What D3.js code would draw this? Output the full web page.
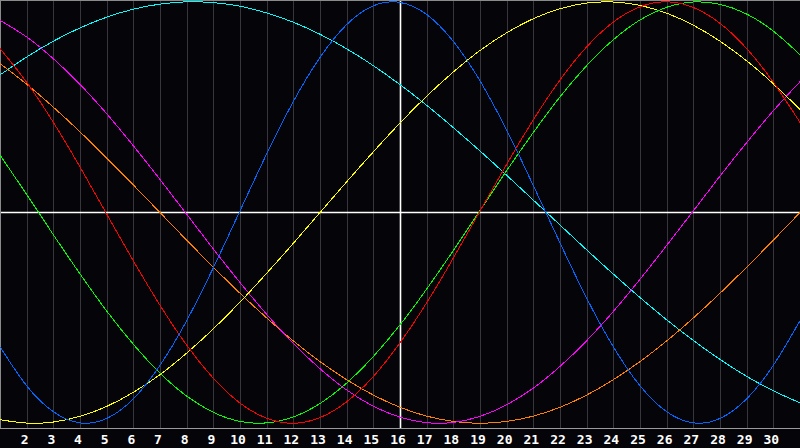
<!DOCTYPE html>
<html>
<head>
<meta charset="utf-8">
<script src="https://cdn.jsdelivr.net/npm/d3@7"></script>
<style>
  html, body { margin: 0; padding: 0; background: #050408; }
  svg { display: block; }
</style>
</head>
<body>
<div id="chart"></div>
<script>
// Days of the month shown (1 .. 31), labels 2 .. 30
const days = d3.range(1, 32);
const tickDays = d3.range(2, 31);
const today = 16;

// Cycle values in percent, one per day
const blue    = [-63.7,-82.2,-94.5,-99.8,-97.7,-88.4,-72.5,-51.3,-26.2,0.8,27.8,52.7,73.6,89.2,98.1,99.7,94.0,81.2,62.5,39.1,12.8,-14.4,-40.6,-63.7,-82.2,-94.5,-99.8,-97.7,-88.4,-72.5,-51.3];
const red     = [77.8,61.8,42.8,21.6,-0.7,-22.9,-44.0,-62.9,-78.6,-90.4,-97.6,-100.0,-97.3,-89.8,-77.8,-61.8,-42.8,-21.6,0.7,22.9,44.0,62.9,78.6,90.4,97.6,100.0,97.3,89.8,77.8,61.8,42.8];
const green   = [27.3,8.6,-10.5,-29.1,-46.7,-62.5,-76.2,-87.1,-94.8,-99.1,-99.8,-97.0,-90.6,-80.9,-68.3,-53.3,-36.3,-18.0,0.9,19.9,38.0,54.9,69.7,82.0,91.4,97.4,99.9,98.8,94.2,86.1,74.9];
const magenta = [91.2,83.3,73.0,60.8,46.9,31.7,15.7,-0.8,-17.3,-33.2,-48.3,-62.1,-74.1,-84.2,-91.9,-97.1,-99.7,-99.6,-96.7,-91.2,-83.3,-73.0,-60.8,-46.9,-31.7,-15.6,0.8,17.3,33.2,48.3,62.1];
const yellow  = [-98.3,-99.9,-99.4,-96.7,-92.0,-85.3,-76.9,-66.7,-55.2,-42.5,-28.8,-14.6,0,14.6,28.8,42.5,55.2,66.7,76.9,85.3,92.0,96.7,99.4,99.9,98.3,94.6,88.9,81.3,72.0,61.1,48.9];
const orange  = [70.7,60.9,50.0,38.3,25.9,13.1,0,-13.1,-25.9,-38.3,-50.0,-60.9,-70.7,-79.3,-86.6,-92.4,-96.6,-99.1,-100,-99.1,-96.6,-92.4,-86.6,-79.3,-70.7,-60.9,-50.0,-38.3,-25.9,-13.1,0];
const cyan    = [65.3,73.8,81.3,87.6,92.7,96.5,98.9,100.0,99.6,97.9,94.7,90.3,84.6,77.7,69.7,60.7,50.9,40.3,29.2,17.7,5.9,-5.9,-17.7,-29.2,-40.3,-50.9,-60.7,-69.7,-77.7,-84.6,-90.3];

const series = [
  { values: cyan,    color: '#00ffff' },
  { values: orange,  color: '#ff8000' },
  { values: magenta, color: '#ff00ff' },
  { values: yellow,  color: '#ffff00' },
  { values: green,   color: '#00ff00' },
  { values: red,     color: '#ff0000' },
  { values: blue,    color: '#0066ff' }
];

const W = 800, H = 448;
const plotBottom = 428;

const svg = d3.select('#chart')
  .append('svg')
  .attr('width', W)
  .attr('height', H);

svg.append('rect')
  .attr('width', W)
  .attr('height', H)
  .attr('fill', '#050408');

const x = d3.scaleLinear().domain([1, 31]).range([0, W]);
const y = d3.scaleLinear().domain([-100, 100]).range([423.3, 1.8]);

// Day grid lines
svg.append('g')
  .selectAll('line')
  .data(tickDays)
  .enter()
  .append('line')
  .attr('x1', d => Math.round(x(d)) + 0.5)
  .attr('x2', d => Math.round(x(d)) + 0.5)
  .attr('y1', 0)
  .attr('y2', plotBottom)
  .attr('stroke', d => d === today ? '#ffffff' : '#38363c')
  .attr('stroke-width', d => d === today ? 1.6 : 1);

// Zero line
svg.append('line')
  .attr('x1', 0).attr('x2', W)
  .attr('y1', y(0)).attr('y2', y(0))
  .attr('stroke', '#ffffff')
  .attr('stroke-width', 1.6);

// Frame: left, top and bottom
svg.append('line').attr('x1', 0.5).attr('x2', 0.5).attr('y1', 0).attr('y2', plotBottom)
  .attr('stroke', '#8a8a8a');
svg.append('line').attr('x1', 0).attr('x2', W).attr('y1', 0.5).attr('y2', 0.5)
  .attr('stroke', '#8a8a8a');
svg.append('line').attr('x1', 0).attr('x2', W).attr('y1', plotBottom + 0.5).attr('y2', plotBottom + 0.5)
  .attr('stroke', '#9a9a9a');

// Curves
const line = d3.line()
  .x((d, i) => x(days[i]))
  .y(d => y(d))
  .curve(d3.curveNatural);

svg.append('g')
  .selectAll('path')
  .data(series)
  .enter()
  .append('path')
  .attr('d', d => line(d.values))
  .attr('fill', 'none')
  .attr('stroke', d => d.color)
  .attr('stroke-width', 1)
  .attr('shape-rendering', 'crispEdges');

// Day labels
svg.append('g')
  .selectAll('text')
  .data(tickDays)
  .enter()
  .append('text')
  .attr('x', d => x(d) - 2)
  .attr('y', 443.5)
  .attr('text-anchor', 'middle')
  .attr('fill', '#ffffff')
  .style('font-family', '"DejaVu Sans Mono", monospace')
  .style('font-weight', 'bold')
  .style('font-size', '13px')
  .text(d => d);
</script>
</body>
</html>
